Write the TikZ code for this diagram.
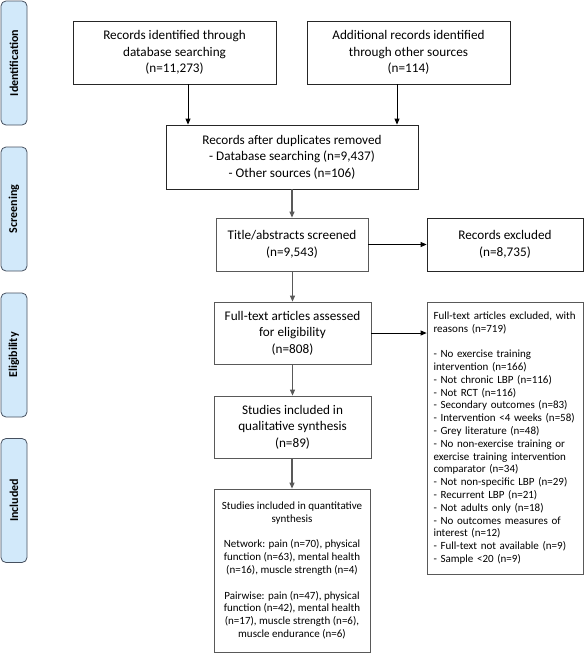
\documentclass[tikz,border=0pt]{standalone}
\usepackage{fontspec}
\setmainfont{Carlito}
\usetikzlibrary{arrows.meta}
\definecolor{sidefill}{RGB}{210,233,250}
\definecolor{sidedraw}{RGB}{70,80,95}
\definecolor{lgray}{RGB}{89,89,89}
\tikzset{
  box/.style={draw=black!85, line width=0.8pt, rectangle, align=center, inner sep=4pt,
    font=\fontsize{13.2}{16.6}\selectfont},
  gbox/.style={box, draw=lgray},
  smallbox/.style={draw=lgray, line width=0.8pt, rectangle, inner sep=0pt,
    font=\fontsize{11}{12.8}\selectfont},
  side/.style={draw=sidedraw, fill=sidefill, line width=0.8pt, rounded corners=5pt,
    minimum width=26pt, minimum height=124pt, inner sep=0pt},
  sidetext/.style={rotate=90, font=\fontsize{12}{14}\selectfont\bfseries},
  arr/.style={-{Triangle[length=6pt,width=5pt]}, line width=0.8pt, draw=black},
  garr/.style={arr, draw=lgray, line width=1.1pt},
}
\begin{document}
\begin{tikzpicture}[x=1pt,y=-1pt]
\useasboundingbox (0,0) rectangle (584,653);
% side labels
\node[side] (s1) at (14,63) {};
\node[sidetext] (t1) at (s1.center) {Identification};
\node[side] (s2) at (14,209) {};
\node[sidetext] (t2) at (s2.center) {Screening};
\node[side] (s3) at (14,355) {};
\node[sidetext] (t3) at (s3.center) {Eligibility};
\node[side] (s4) at (14,500.5) {};
\node[sidetext] (t4) at (s4.center) {Included};
% main boxes
\node[box, minimum width=203pt, minimum height=63pt] (b1) at (174.5,52.5)
  {Records identified through\\database searching\\(n=11,273)};
\node[box, minimum width=203pt, minimum height=63pt] (b2) at (408.5,52.5)
  {Additional records identified\\through other sources\\(n=114)};
\node[box, minimum width=252pt, minimum height=64pt] (b3) at (292,157)
  {Records after duplicates removed\\- Database searching (n=9,437)\\- Other sources (n=106)};
\node[gbox, minimum width=152pt, minimum height=53pt] (b4) at (292,244.5)
  {Title/abstracts screened\\(n=9,543)};
\node[box, minimum width=156pt, minimum height=53pt] (e1) at (505,244.5)
  {Records excluded\\(n=8,735)};
\node[gbox, minimum width=157pt, minimum height=62pt] (b5) at (292.5,333)
  {Full-text articles assessed\\for eligibility\\(n=808)};
\node[gbox, minimum width=157pt, minimum height=62pt] (b6) at (292.5,427)
  {Studies included in\\qualitative synthesis\\(n=89)};
\node[smallbox, minimum width=156pt, minimum height=272pt, text width=143pt, align=left] (e2) at (505,438)
  {Full-text articles excluded, with\\reasons (n=719)\\[12.8pt]
   - No exercise training\\intervention (n=166)\\- Not chronic LBP (n=116)\\- Not RCT (n=116)\\
   - Secondary outcomes (n=83)\\- Intervention <4 weeks (n=58)\\- Grey literature (n=48)\\
   - No non-exercise training or\\exercise training intervention\\comparator (n=34)\\
   - Not non-specific LBP (n=29)\\- Recurrent LBP (n=21)\\- Not adults only (n=18)\\
   - No outcomes measures of\\interest (n=12)\\- Full-text not available (n=9)\\- Sample <20 (n=9)};
\node[smallbox, minimum width=156pt, minimum height=163pt, align=center] (b7) at (292,570.5)
  {Studies included in quantitative\\synthesis\\[12.8pt]
   Network: pain (n=70), physical\\function (n=63), mental health\\(n=16), muscle strength (n=4)\\[12.8pt]
   Pairwise: pain (n=47), physical\\function (n=42), mental health\\(n=17), muscle strength (n=6),\\muscle endurance (n=6)};
% connectors
\coordinate (a1) at (188,0);
\coordinate (a2) at (397,0);
\draw[arr] (b1.south -| a1) -- (b3.north -| a1);
\draw[arr] (b2.south -| a2) -- (b3.north -| a2);
\draw[garr] (b3.south) -- (b4.north);
\draw[arr] (b4.east) -- (e1.west);
\draw[garr] (b4.south -| b5.north) -- (b5.north);
\draw[arr] (b5.east) -- (b5.east -| e2.west);
\draw[garr] (b5.south) -- (b6.north);
\draw[garr] (b6.south -| b7.north) -- (b7.north);
\end{tikzpicture}
\end{document}
